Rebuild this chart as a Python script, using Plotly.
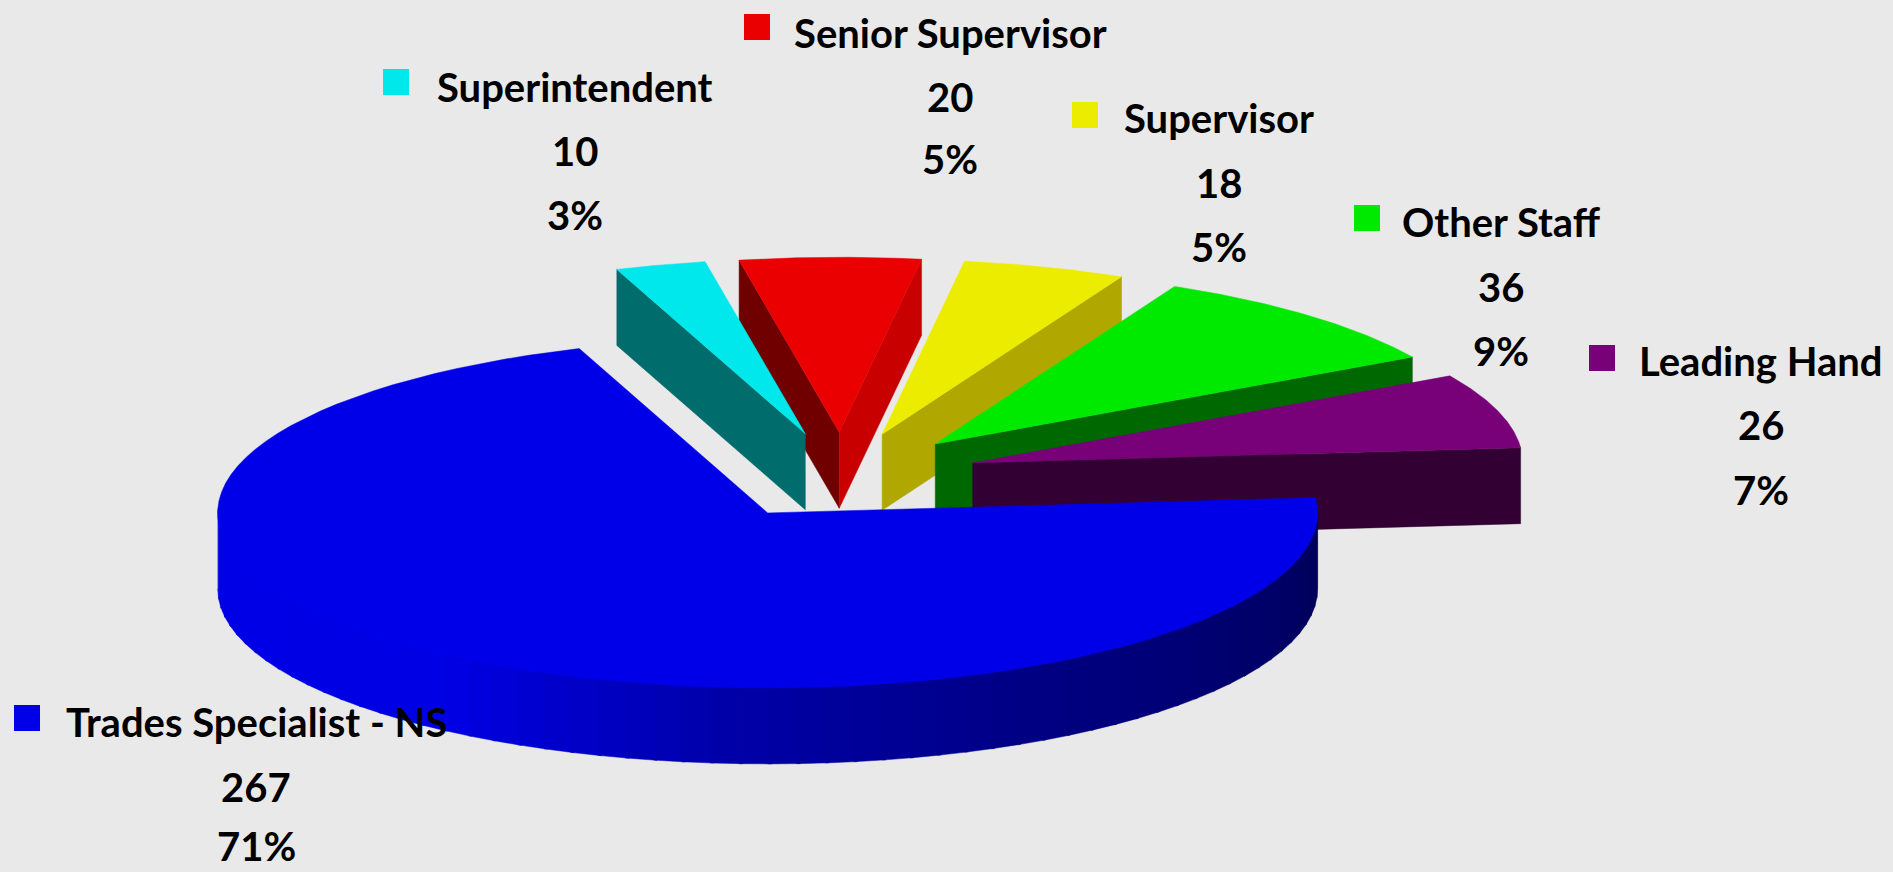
import numpy as np
import plotly.graph_objects as go

# ---- data ----
categories = ["Trades Specialist - NS", "Superintendent", "Senior Supervisor",
              "Supervisor", "Other Staff", "Leading Hand"]
values = [267, 10, 20, 18, 36, 26]
pct_labels = ["71%", "3%", "5%", "5%", "9%", "7%"]

# ---- styles ----
top_colors = ["#0000e8", "#00e8ec", "#ea0000", "#ecec00", "#00ea00", "#780078"]
wall_first = [None, "#006c6c", "#700000", None, None, None]
wall_last = [None, None, "#c80000", "#b0a800", "#006800", "#320032"]
rim_colors = ["#0000e8", "#006c6c", "#700000", "#b0a800", "#006800", "#320032"]
paint_order = [2, 1, 3, 4, 5, 0]

# ---- pseudo-3D pie geometry (pixel space of the page) ----
CX, CY, RX, RY = 841.5, 476.0, 550.0, 175.0
DEPTH, EXPLODE = 76.0, 0.25
START_DEG = 5.0   # parametric angle where the first slice starts, running clockwise

# label placement: legend key centre, then text centre x and the three line centres
key_xy = [(27, 718), (396, 82), (757, 27), (1085, 115), (1367, 218), (1602, 358)]
text_x = [256, 575, 950, 1219, 1501, 1761]
text_y = [(722, 787, 846), (87, 151, 215), (33, 97, 159),
          (118, 183, 247), (222, 287, 351), (361, 425, 490)]
FONT = "Lato, Noto Sans, sans-serif"
BG = "#e9e9e9"


def poly(fig, xs, ys, color):
    fig.add_trace(go.Scatter(x=xs, y=ys, mode="lines", fill="toself", fillcolor=color,
                             line=dict(color=color, width=0.5), hoverinfo="skip",
                             showlegend=False))


def blue_rim_color(t):
    # shading of the large slice's rim, left (t=-180) to right (t=0)
    b = np.interp(t, [-180, -125, -95, -60, -25, 0], [232, 228, 170, 130, 105, 85])
    return f"rgb(0,0,{int(b)})"


fig = go.Figure()
total = sum(values)
spans = [v / total * 360.0 for v in values]

# compute every slice's angles, clockwise from START_DEG
slices = []
a = START_DEG
for i, s in enumerate(spans):
    t1, t2 = a, a - s
    mid = np.radians((t1 + t2) / 2)
    ax = CX + EXPLODE * RX * np.cos(mid)
    ay = CY - EXPLODE * RY * np.sin(mid)
    slices.append((i, t1, t2, ax, ay))
    a = t2

for i, t1, t2, ax, ay in (slices[k] for k in paint_order):
    t = np.radians(np.linspace(t1, t2, 90))
    ex = ax + RX * np.cos(t)
    ey = ay - RY * np.sin(t)
    # radial walls
    for wall, sel in ((wall_first[i], 0), (wall_last[i], -1)):
        if wall:
            poly(fig, [ax, ex[sel], ex[sel], ax, ax],
                 [ay, ey[sel], ey[sel] + DEPTH, ay + DEPTH, ay], wall)
    # outer rim (only the part in front)
    if i == 0:
        grid = np.arange(-180, 0.01, 3.0)
        for g0, g1 in zip(grid[:-1], grid[1:]):
            tt = np.radians(np.linspace(g0, g1 + 0.4, 5))
            rx_ = ax + RX * np.cos(tt)
            ry_ = ay - RY * np.sin(tt)
            # the upper edge runs a little under the top face so that no seam shows
            poly(fig, list(rx_) + list(rx_[::-1]), list(ry_ - 3) + list(ry_[::-1] + DEPTH),
                 blue_rim_color((g0 + g1) / 2))
    else:
        mask = np.sin(t) < 0
        if mask.any():
            poly(fig, list(ex[mask]) + list(ex[mask][::-1]),
                 list(ey[mask]) + list(ey[mask][::-1] + DEPTH), rim_colors[i])
    # top face
    poly(fig, [ax] + list(ex) + [ax], [ay] + list(ey) + [ay], top_colors[i])

# legend keys
fig.add_trace(go.Scatter(x=[k[0] for k in key_xy], y=[k[1] for k in key_xy], mode="markers",
                         marker=dict(symbol="square", size=26, color=top_colors, line=dict(width=0)),
                         hoverinfo="skip", showlegend=False))

# labels
annotations = []
for name, val, pct, x, ys in zip(categories, values, pct_labels, text_x, text_y):
    for txt, y in zip((name, str(val), pct), ys):
        annotations.append(dict(x=x, y=y, text=f"<b>{txt}</b>", showarrow=False,
                                xanchor="center", yanchor="middle",
                                font=dict(family=FONT, size=40, color="#000000")))

fig.update_layout(
    width=1893, height=872, autosize=False,
    margin=dict(l=0, r=0, t=0, b=0),
    paper_bgcolor=BG, plot_bgcolor=BG,
    xaxis=dict(range=[0, 1893], visible=False, fixedrange=True),
    yaxis=dict(range=[872, 0], visible=False, fixedrange=True),
    annotations=annotations,
    showlegend=False,
)
fig.write_html("out.html", config=dict(displayModeBar=False),
               post_script="document.body.style.margin='0';document.body.style.background='#e9e9e9';")
